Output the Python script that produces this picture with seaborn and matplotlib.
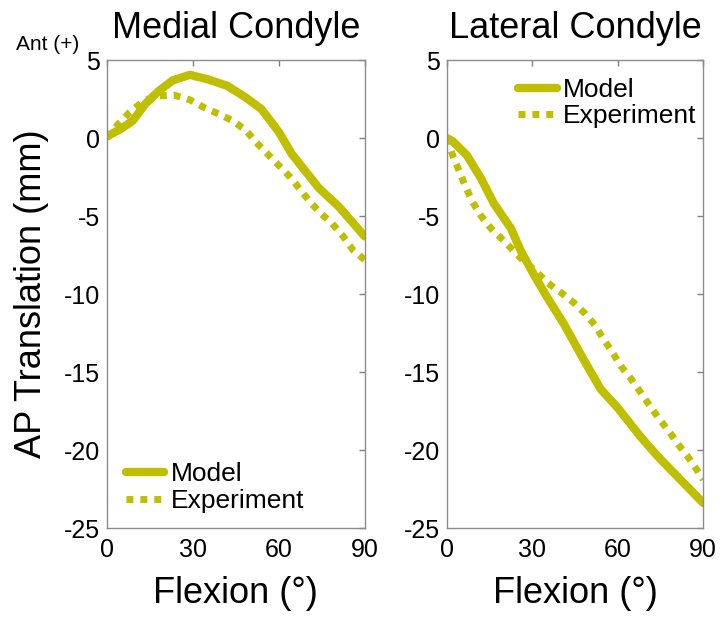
import matplotlib
matplotlib.use("Agg")
import matplotlib.pyplot as plt
import seaborn as sns

# traced values (flexion deg, AP translation mm)
med_model_x = [0, 5, 9, 13.5, 18, 23, 29, 35.5, 42, 48.5, 54, 60, 64.5, 69, 74, 81, 90]
med_model_y = [0.1, 0.6, 1.1, 2.2, 3.0, 3.7, 4.05, 3.75, 3.35, 2.6, 1.85, 0.4, -1.0, -2.05, -3.2, -4.4, -6.3]

med_exp_x = [0, 4, 8, 13, 18, 23.5, 29, 34, 39, 44, 48.5, 52, 56, 60, 64, 67.5, 71, 74.5, 78.5, 82.5, 86, 90]
med_exp_y = [0.0, 0.9, 1.65, 2.4, 2.7, 2.75, 2.45, 1.95, 1.55, 1.1, 0.5, -0.25, -1.0, -1.75, -2.5, -3.3,
             -4.1, -4.8, -5.45, -6.3, -7.2, -7.8]

lat_model_x = [0, 2, 7, 12, 16.5, 22.5, 26, 30.5, 35.5, 41, 48, 54, 60, 68, 74, 82, 90]
lat_model_y = [0, -0.2, -1.1, -2.6, -4.2, -5.8, -7.25, -8.75, -10.3, -11.9, -14.2, -16.1, -17.3, -19.15,
               -20.4, -21.9, -23.4]

lat_exp_x = [0, 2, 4.5, 6.5, 9, 12, 15.5, 19.5, 23, 27, 31, 35.5, 40, 44.5, 48.5, 52, 55, 58, 61, 64.5,
             68, 71, 74.5, 78, 81, 84.5, 87.5, 90]
lat_exp_y = [0, -1.1, -2.2, -3.1, -4.1, -5.0, -5.8, -6.5, -7.15, -7.9, -8.5, -9.3, -9.9, -10.55, -11.25,
             -12.0, -12.9, -13.7, -14.6, -15.4, -16.3, -17.1, -18.0, -18.8, -19.6, -20.4, -21.2, -21.9]

x_ticks = [0, 30, 60, 90]
y_ticks = [5, 0, -5, -10, -15, -20, -25]
titles = ["Medial Condyle", "Lateral Condyle"]

sns.set_style("white")
plt.rcParams["font.family"] = ["Liberation Sans", "DejaVu Sans"]
plt.rcParams["axes.unicode_minus"] = False
plt.rcParams["text.color"] = "black"
plt.rcParams["axes.labelcolor"] = "black"
plt.rcParams["xtick.labelcolor"] = "black"
plt.rcParams["ytick.labelcolor"] = "black"

col = "#bfbf00"
fig = plt.figure(figsize=(7.22, 6.19), dpi=100)

ax1 = fig.add_axes([0.148, 0.147, 0.357, 0.756])
ax2 = fig.add_axes([0.619, 0.147, 0.355, 0.756])

panels = [
    (ax1, med_model_x, med_model_y, med_exp_x, med_exp_y, (0.075, 0.14)),
    (ax2, lat_model_x, lat_model_y, lat_exp_x, lat_exp_y, (0.279, 0.962)),
]

for i, (ax, mx, my, ex, ey, leg_pos) in enumerate(panels):
    sns.lineplot(x=mx, y=my, ax=ax, color=col, lw=6, label="Model")
    sns.lineplot(x=ex, y=ey, ax=ax, color=col, lw=5, linestyle=(0, (1, 1)), label="Experiment")
    ax.set_xlim(0, 90)
    ax.set_ylim(-25, 5)
    ax.set_xticks(x_ticks)
    ax.set_yticks(y_ticks)
    ax.tick_params(axis="both", direction="in", length=4, width=1, color="#808080",
                   labelsize=18, top=True, right=True)
    ax.tick_params(axis="x", pad=7)
    ax.tick_params(axis="y", pad=5)
    for sp in ax.spines.values():
        sp.set_color("#8c8c8c")
        sp.set_linewidth(1)
    ax.set_title(titles[i], fontsize=26, pad=16)
    ax.set_xlabel("Flexion (°)", fontsize=26, labelpad=10)
    ax.legend(loc="upper left", bbox_to_anchor=leg_pos, frameon=False, fontsize=19,
              handlelength=1.45, handletextpad=0.25, labelspacing=0.1, borderpad=0,
              borderaxespad=0)

ax1.set_ylabel("AP Translation (mm)", fontsize=26)
ax1.yaxis.set_label_coords(-0.226, 0.5)
ax2.set_ylabel("")

fig.text(16 / 722, 1 - 44 / 619, "Ant (+)", fontsize=15, ha="left", va="center")

fig.savefig("out.png", dpi=100)
